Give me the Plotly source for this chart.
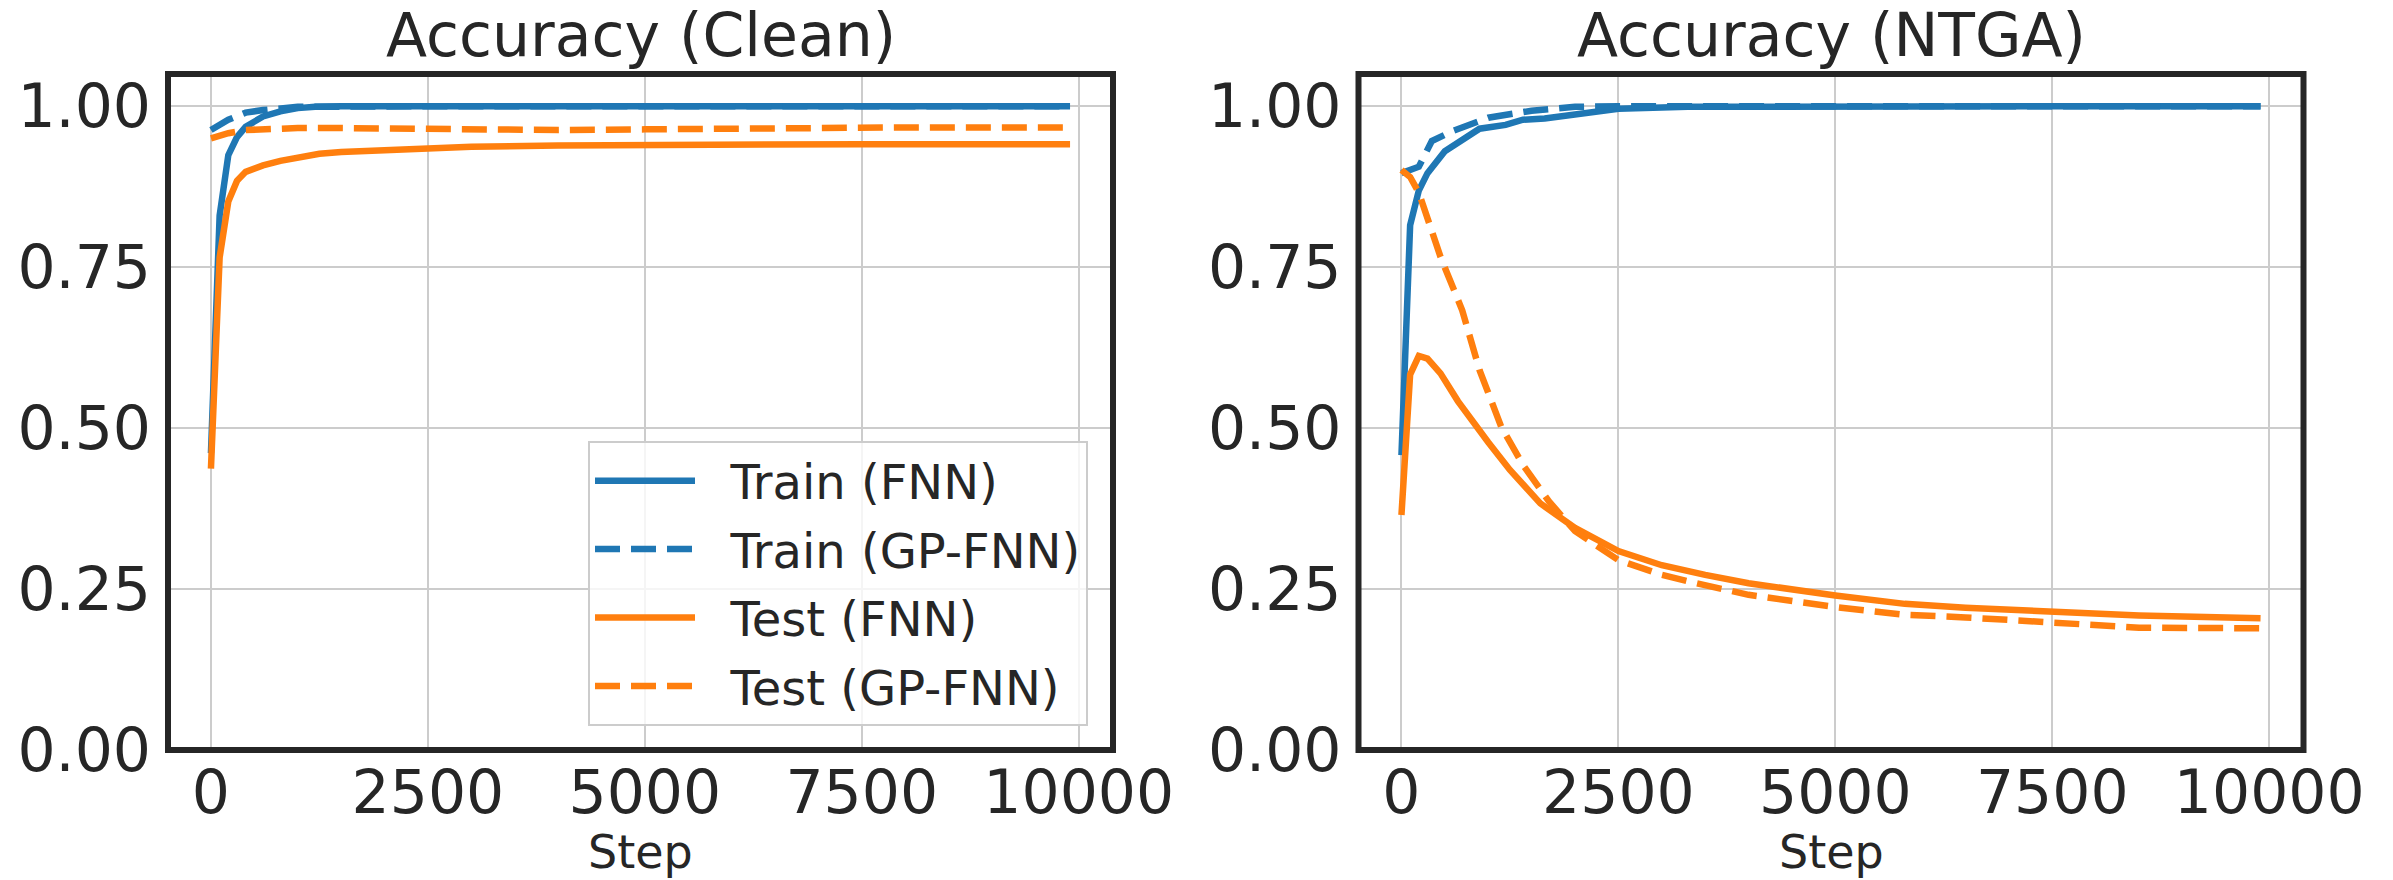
import plotly.graph_objects as go

BLUE = "#1f77b4"
ORANGE = "#ff7f0e"
INK = "#262626"
FONT = "DejaVu Sans"

# ---------------- data: Accuracy (Clean) ----------------
clean_train_fnn_x = [0, 100, 200, 300, 400, 500, 600, 800, 1000, 1200, 1500, 2500, 5000, 7500, 9900]
clean_train_fnn_y = [0.461, 0.83, 0.924, 0.952, 0.968, 0.977, 0.984, 0.992, 0.997, 0.999, 1.0, 1.0, 1.0, 1.0, 1.0]

clean_train_gp_x = [0, 200, 400, 600, 1000, 1500, 2500, 5000, 7500, 9900]
clean_train_gp_y = [0.963, 0.979, 0.990, 0.994, 0.999, 1.0, 1.0, 1.0, 1.0, 1.0]

clean_test_fnn_x = [0, 100, 200, 300, 400, 600, 800, 1000, 1250, 1500, 2000, 2500, 3000, 4000, 5000, 6000, 7500, 9000, 9900]
clean_test_fnn_y = [0.437, 0.765, 0.852, 0.884, 0.898, 0.908, 0.915, 0.920, 0.926, 0.929, 0.932, 0.936, 0.937, 0.939, 0.940, 0.941, 0.941, 0.941, 0.941]

clean_test_gp_x = [0, 200, 400, 700, 1000, 1500, 2000, 3000, 3500, 4000, 5000, 6000, 7000, 8000, 9000, 9900]
clean_test_gp_y = [0.950, 0.958, 0.963, 0.965, 0.966, 0.966, 0.965, 0.964, 0.963, 0.963, 0.964, 0.966, 0.966, 0.967, 0.967, 0.967]

# ---------------- data: Accuracy (NTGA) ----------------
ntga_train_fnn_x = [0, 100, 200, 300, 500, 750, 900, 1200, 1400, 1650, 2100, 2500, 3300, 5000, 7500, 9900]
ntga_train_fnn_y = [0.458, 0.815, 0.869, 0.896, 0.930, 0.953, 0.965, 0.971, 0.979, 0.981, 0.988, 0.996, 0.999, 1.0, 1.0, 1.0]

ntga_train_gp_x = [0, 200, 350, 600, 1000, 1500, 2000, 2500, 5000, 7500, 9900]
ntga_train_gp_y = [0.896, 0.906, 0.946, 0.962, 0.982, 0.993, 0.999, 1.0, 1.0, 1.0, 1.0]

ntga_test_fnn_x = [0, 100, 200, 300, 450, 650, 1000, 1250, 1600, 2000, 2500, 3000, 3500, 4000, 5000, 5800, 6500, 7500, 8500, 9900]
ntga_test_fnn_y = [0.365, 0.583, 0.612, 0.608, 0.585, 0.542, 0.478, 0.435, 0.383, 0.345, 0.309, 0.287, 0.272, 0.259, 0.240, 0.227, 0.221, 0.215, 0.209, 0.2045]

ntga_test_gp_x = [0, 100, 200, 450, 700, 900, 1150, 1400, 1700, 2000, 2500, 3000, 3400, 4000, 5000, 5800, 6500, 7500, 8500, 9900]
ntga_test_gp_y = [0.901, 0.890, 0.866, 0.766, 0.683, 0.590, 0.502, 0.443, 0.386, 0.340, 0.295, 0.272, 0.259, 0.241, 0.222, 0.210, 0.206, 0.199, 0.190, 0.189]

x_ticks = [0, 2500, 5000, 7500, 10000]
y_ticks = [0.0, 0.25, 0.5, 0.75, 1.0]
titles = ["Accuracy (Clean)", "Accuracy (NTGA)"]
x_label = "Step"
labels = ["Train (FNN)", "Train (GP-FNN)", "Test (FNN)", "Test (GP-FNN)"]

panels = [
    [(clean_train_fnn_x, clean_train_fnn_y), (clean_train_gp_x, clean_train_gp_y),
     (clean_test_fnn_x, clean_test_fnn_y), (clean_test_gp_x, clean_test_gp_y)],
    [(ntga_train_fnn_x, ntga_train_fnn_y), (ntga_train_gp_x, ntga_train_gp_y),
     (ntga_test_fnn_x, ntga_test_fnn_y), (ntga_test_gp_x, ntga_test_gp_y)],
]
styles = [(BLUE, "solid"), (BLUE, "25px,11px"), (ORANGE, "solid"), (ORANGE, "25px,11px")]

W, H = 2393, 880
x_domains = [[168 / W, 1113 / W], [1358.5 / W, 2303.5 / W]]
y_domain = [1 - 750 / H, 1 - 74 / H]
PAD = "\u00a0\u00a0"  # spacing between legend sample line and its label

fig = go.Figure()
for p, series in enumerate(panels):
    xa = "x" if p == 0 else "x2"
    ya = "y" if p == 0 else "y2"
    for i, (xs, ys) in enumerate(series):
        color, dash = styles[i]
        fig.add_trace(go.Scatter(
            x=xs, y=ys, mode="lines", name=PAD + labels[i],
            line=dict(color=color, width=6.5, dash=dash),
            xaxis=xa, yaxis=ya, showlegend=(p == 0),
            legendgroup=labels[i],
        ))

axis_common = dict(
    showline=False, zeroline=False, showgrid=True,
    gridcolor="#cccccc", gridwidth=2, ticks="",
    tickfont=dict(family=FONT, size=60, color=INK),
    automargin=False,
)

layout = dict(
    width=W, height=H,
    margin=dict(l=0, r=0, t=0, b=0),
    paper_bgcolor="white", plot_bgcolor="white",
    font=dict(family=FONT, color=INK),
    legend=dict(
        x=1088 / W, y=1 - 726 / H, xanchor="right", yanchor="bottom",
        bgcolor="rgba(255,255,255,0.8)", bordercolor="#cccccc", borderwidth=2,
        font=dict(family=FONT, size=48, color=INK),
        tracegroupgap=3, itemwidth=100, traceorder="grouped",
    ),
)
for p in range(2):
    sx = "" if p == 0 else "2"
    layout["xaxis" + sx] = dict(
        axis_common, domain=x_domains[p], range=[-495, 10395],
        tickvals=x_ticks, ticktext=[str(v) for v in x_ticks],
        ticklabelstandoff=2, anchor="y" + sx,
    )
    layout["yaxis" + sx] = dict(
        axis_common, domain=y_domain, range=[0, 1.05],
        tickvals=y_ticks, ticktext=[f"{v:.2f}" for v in y_ticks],
        ticklabelstandoff=16, anchor="x" + sx,
    )
fig.update_layout(**layout)

for p in range(2):
    sx = "" if p == 0 else "2"
    fig.add_shape(type="rect", xref=f"x{sx} domain", yref=f"y{sx} domain",
                  x0=0, x1=1, y0=0, y1=1, line=dict(color=INK, width=6),
                  fillcolor="rgba(0,0,0,0)", layer="above")
    fig.add_annotation(
        text=titles[p], x=sum(x_domains[p]) / 2, y=y_domain[1],
        xref="paper", yref="paper", xanchor="center", yanchor="bottom",
        showarrow=False, font=dict(family=FONT, size=60, color=INK), yshift=2,
    )
    fig.add_annotation(
        text=x_label, x=sum(x_domains[p]) / 2, y=0,
        xref="paper", yref="paper", xanchor="center", yanchor="bottom",
        showarrow=False, font=dict(family=FONT, size=46, color=INK), yshift=0,
        borderpad=0,
    )

fig.write_html("out.html")
